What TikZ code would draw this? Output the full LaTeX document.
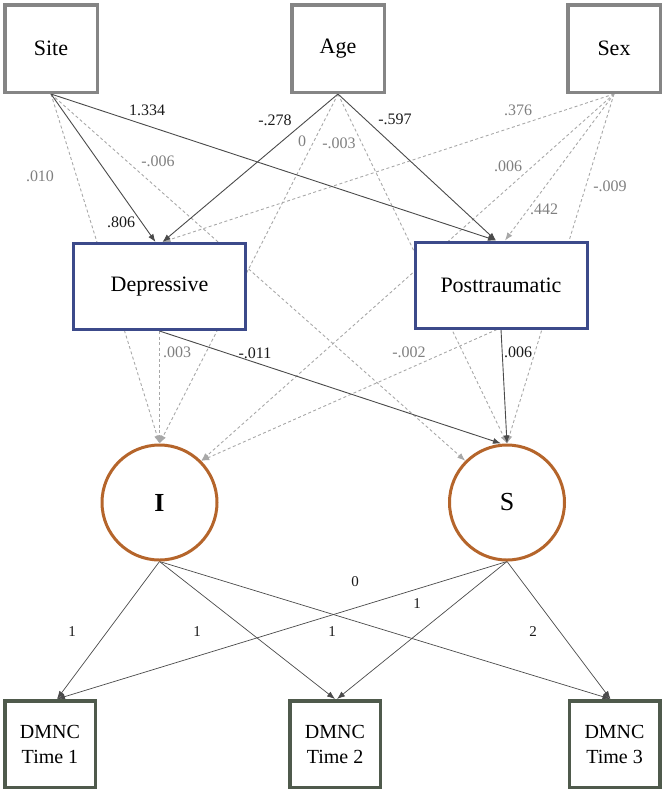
\documentclass[tikz,border=0pt]{standalone}
\usepackage{fontspec}
\setmainfont{Liberation Serif}
\usetikzlibrary{arrows.meta}
\definecolor{topc}{HTML}{858585}
\definecolor{midc}{HTML}{3C4A8A}
\definecolor{circc}{HTML}{B5652B}
\definecolor{botc}{HTML}{4F5A4C}
\definecolor{solidc}{HTML}{4A4A4A}
\definecolor{dashc}{HTML}{A8A8A8}
\definecolor{labg}{HTML}{7F7F7F}
\definecolor{labk}{HTML}{1A1A1A}
\pgfdeclarelayer{bg}
\pgfsetlayers{bg,main}
\begin{document}
\begin{tikzpicture}[x=1pt,y=-1pt,
  topbox/.style={draw=topc, line width=3.5pt, fill=white, minimum width=92.5pt, minimum height=87.5pt, inner sep=0pt, font=\fontsize{22}{26}\selectfont},
  midbox/.style={draw=midc, line width=3pt, fill=white, minimum width=172pt, minimum height=86pt, inner sep=0pt, font=\fontsize{22}{26}\selectfont},
  latent/.style={circle, draw=circc, line width=3pt, fill=white, minimum size=115pt, inner sep=0pt, font=\fontsize{26}{30}\selectfont},
  botbox/.style={draw=botc, line width=3.5pt, fill=white, minimum width=90.5pt, minimum height=86.5pt, inner sep=0pt, align=center, font=\fontsize{20}{25}\selectfont},
  sol/.style={draw=solidc, line width=0.9pt, -{Latex[length=8pt,width=6pt]}},
  dsh/.style={draw=dashc, line width=0.9pt, dash pattern=on 3pt off 2.5pt, -{Latex[length=8pt,width=6pt]}},
  thin/.style={draw=solidc, line width=0.7pt, -{Latex[length=8pt,width=6pt]}},
  labK/.style={text=labk, inner sep=0pt, font=\fontsize{16}{19}\selectfont},
  labG/.style={text=labg, inner sep=0pt, font=\fontsize{16}{19}\selectfont},
  labB/.style={text=labk, inner sep=0pt, font=\fontsize{15}{18}\selectfont}
]
\useasboundingbox (0,0) rectangle (665,793);

% observed covariates
\node[topbox] (site) at (51,48.5) {Site};
\node[topbox] (age) at (338,48.5) {Age};
\node[topbox] (sex) at (614,48.5) {Sex};

% symptom boxes
\node[midbox] (dep) at (159.5,286.5) {Depressive};
\node[midbox] (post) at (501,285) {Posttraumatic};

% latent factors
\node[latent] (I) at (159.5,502.5) {\bfseries I};
\node[latent] (S) at (507,502.5) {S};

% outcomes
\node[botbox] (t1) at (50,744) {DMNC\\Time 1};
\node[botbox] (t2) at (335,744) {DMNC\\Time 2};
\node[botbox] (t3) at (614.5,744) {DMNC\\Time 3};

\begin{pgfonlayer}{bg}
% dashed (non-significant) paths
\draw[dsh] (site.south) -- (I.north);
\draw[dsh] (site.south) -- (S.135);
\draw[dsh] (age.south) -- (I.north);
\draw[dsh] (age.south) -- (S.north);
\draw[dsh] (sex.south) -- ([xshift=3pt]dep.north);
\draw[dsh] (sex.south) -- ([xshift=4pt]post.north);
\draw[dsh] (sex.south) -- (I.45);
\draw[dsh] (sex.south) -- (S.north);
\draw[dsh] (dep.south) -- (I.north);
\draw[dsh] ([xshift=-4pt]post.south) -- (I.45);
% solid (significant) paths
\draw[sol] (site.south) -- ([xshift=-4pt]dep.north);
\draw[sol] (site.south) -- ([xshift=-5pt]post.north);
\draw[sol] (age.south) -- ([xshift=3pt]dep.north);
\draw[sol] (age.south) -- ([xshift=-5pt]post.north);
\draw[sol] (dep.south) -- ([xshift=-6pt]S.north);
\draw[sol] (post.south) -- (S.north);
% loadings
\draw[thin] (I.south) -- ([xshift=7pt]t1.north);
\draw[thin] (I.south) -- (t2.north);
\draw[thin] (I.south) -- ([xshift=-4pt]t3.north);
\draw[thin] (S.south) -- ([xshift=7pt]t1.north);
\draw[thin] (S.south) -- ([xshift=2pt]t2.north);
\draw[thin] (S.south) -- ([xshift=-4pt]t3.north);
\end{pgfonlayer}

% path labels
\node[labK] (l1) at (147,110) {1.334};
\node[labK] (l2) at (275,120) {-.278};
\node[labG] (l3) at (302,141) {0};
\node[labG] (l4) at (339,143) {-.003};
\node[labG] (l5) at (40,176) {.010};
\node[labG] (l6) at (158,161) {-.006};
\node[labK] (l7) at (121,222) {.806};
\node[labK] (l8) at (395,119) {-.597};
\node[labG] (l9) at (518,110) {.376};
\node[labG] (l10) at (508,166) {.006};
\node[labG] (l11) at (544,209) {.442};
\node[labG] (l12) at (610,186) {-.009};
\node[labG] (l13) at (177,352) {.003};
\node[labK] (l14) at (255,353) {-.011};
\node[labG] (l15) at (409,352) {-.002};
\node[labK] (l16) at (518,352) {.006};
% loading labels
\node[labB] (b1) at (72,632) {1};
\node[labB] (b2) at (197,632) {1};
\node[labB] (b3) at (332,632) {1};
\node[labB] (b4) at (355,582) {0};
\node[labB] (b5) at (417,604) {1};
\node[labB] (b6) at (533,632) {2};
\end{tikzpicture}
\end{document}
